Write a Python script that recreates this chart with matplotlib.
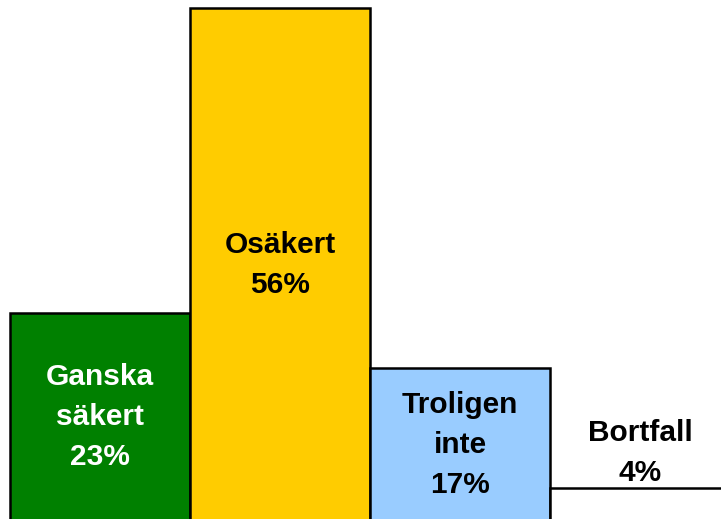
import matplotlib.pyplot as plt

# data
categories = ["Ganska\nsäkert", "Osäkert", "Troligen\ninte", "Bortfall"]
values = [23, 56, 17, 4]
colors = ["#008000", "#FFCC00", "#99CCFF", "#FFFFFF"]
text_colors = ["white", "black", "black", "black"]

plt.rcParams['font.family'] = ['Liberation Sans', 'DejaVu Sans']

fig = plt.figure(figsize=(7.21, 5.19), dpi=100)
ax = fig.add_axes([0, 0, 1, 1])

x = list(range(len(values)))
ax.bar(x, values, width=1.0, color=colors, edgecolor="black", linewidth=1.8)

for i, (cat, v) in enumerate(zip(categories, values)):
    label = cat + "\n" + str(v) + "%"
    if v < 8:
        # small bar: label above the bar
        ypos = v + 3.8
    else:
        ypos = v / 2 + 0.2
    ax.text(i, ypos, label, ha="center", va="center", fontsize=21.5,
            fontweight="bold", color=text_colors[i], linespacing=1.55)

# pixel mapping: bar 0 starts at x=10, each bar 180 px wide, bars run below the bottom
ax.set_xlim(-0.5 - 10 / 180, -0.5 + 711 / 180)
ax.set_ylim(6 / 9.23, 525 / 9.23)
ax.axis("off")

fig.savefig("out.png", dpi=100)
